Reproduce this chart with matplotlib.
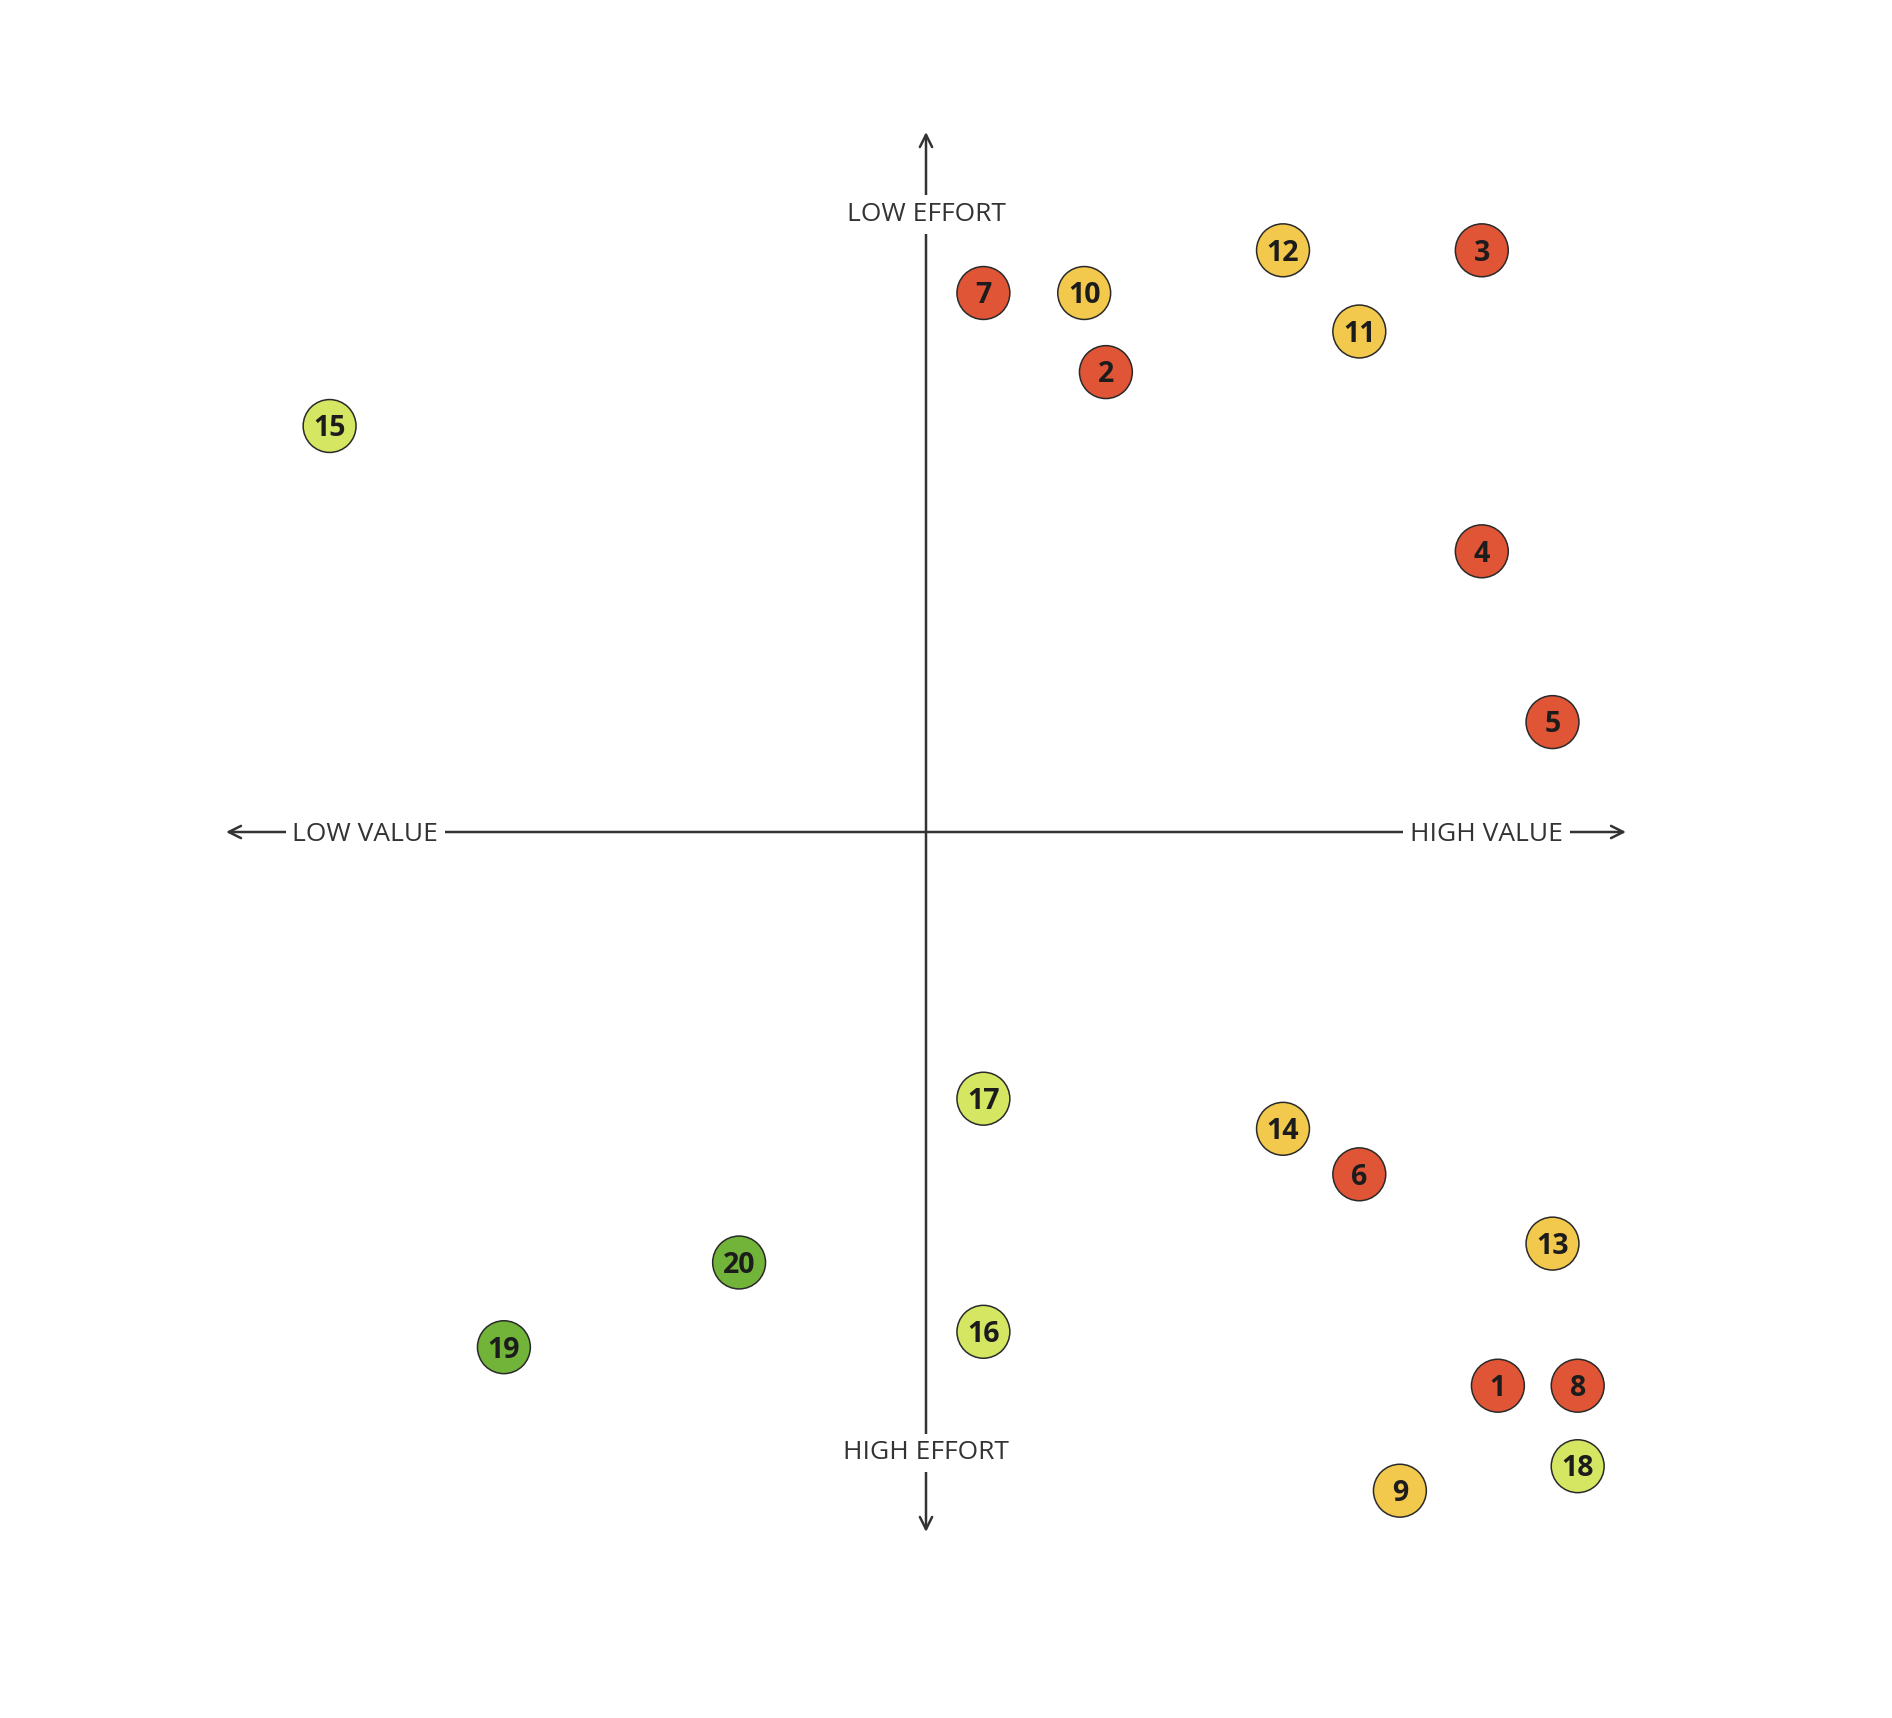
import matplotlib
matplotlib.use('Agg')
import matplotlib.pyplot as plt

# priority matrix: value (x) vs effort (y, up = low effort)
ids = [1, 2, 3, 4, 5, 6, 7, 8, 9, 10, 11, 12, 13, 14, 15, 16, 17, 18, 19, 20]
value = [81.7, 25.7, 79.4, 79.4, 89.5, 61.9, 8.2, 93.1, 67.7, 22.6,
         61.9, 51.0, 89.5, 51.0, -85.2, 8.2, 8.2, 93.1, -60.3, -26.7]
effort = [-79.1, 65.7, 83.1, 40.1, 15.7, -48.9, 77.0, -79.1, -94.1, 77.0,
          71.5, 83.1, -58.8, -42.4, 58.0, -71.4, -38.1, -90.6, -73.6, -61.5]
group = ['red', 'red', 'red', 'red', 'red', 'red', 'red', 'red', 'yellow', 'yellow',
         'yellow', 'yellow', 'yellow', 'yellow', 'lime', 'lime', 'lime', 'lime', 'green', 'green']

colors = {'red': '#E05535', 'yellow': '#F2C94C', 'lime': '#D5E762', 'green': '#72B33A'}
axis_labels = ['LOW VALUE', 'HIGH VALUE', 'LOW EFFORT', 'HIGH EFFORT']

plt.rcParams['font.family'] = ['Open Sans', 'DejaVu Sans']

fig = plt.figure(figsize=(18.92, 17.18), dpi=100)
ax = fig.add_axes([0, 0, 1, 1])
ax.set_xlim(-926 / 7, (1892 - 926) / 7)
ax.set_ylim((832 - 1718) / 7, 832 / 7)
ax.axis('off')

line_col = '#333333'
arrow = dict(arrowstyle='<->', color=line_col, lw=1.8, mutation_scale=22,
             shrinkA=0, shrinkB=0)
ax.annotate('', xy=(100, 0), xytext=(-100, 0), arrowprops=arrow)
ax.annotate('', xy=(0, 100), xytext=(0, -100), arrowprops=arrow)

box = dict(fc='white', ec='none', pad=5)
lab = dict(fontsize=19, color=line_col, ha='center', va='center', bbox=box)
dy = -0.4  # nudge text down so caps sit centred
ax.text(-80.1, dy, axis_labels[0], **lab)
ax.text(80.1, dy, axis_labels[1], **lab)
ax.text(0, 88.6 + dy, axis_labels[2], **lab)
ax.text(0, -88.3 + dy, axis_labels[3], **lab)

ax.scatter(value, effort, s=1450, c=[colors[g] for g in group],
           edgecolors='#2a2a2a', linewidths=1.1, zorder=3)
for i, x, y in zip(ids, value, effort):
    ax.text(x, y + dy, str(i), fontsize=20.5, fontweight='bold', color='#1c1c1c',
            ha='center', va='center', zorder=4)

fig.savefig('out.png', dpi=100, facecolor='white')
